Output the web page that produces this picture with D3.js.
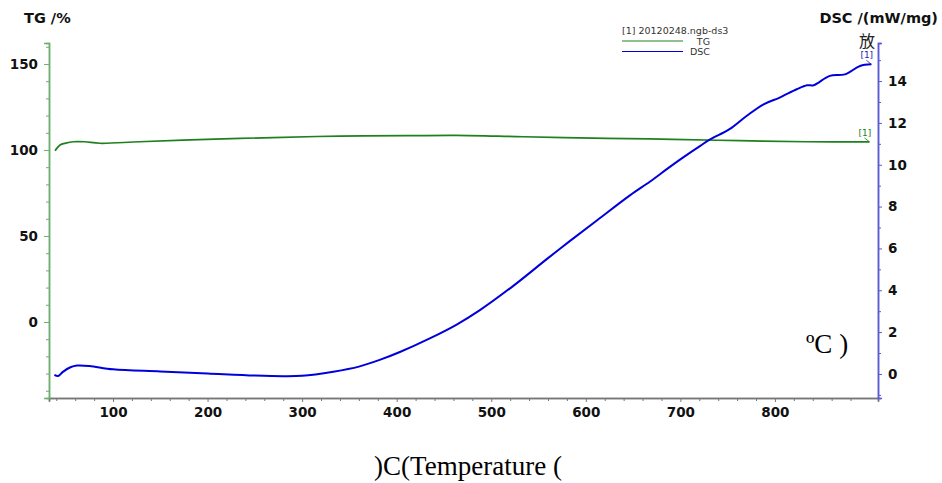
<!DOCTYPE html>
<html>
<head>
<meta charset="utf-8">
<script src="https://cdn.jsdelivr.net/npm/d3@7"></script>
<style>
  body { margin: 0; background: #fff; }
  svg text { font-family: "DejaVu Sans", sans-serif; }
</style>
</head>
<body>
<div id="chart"></div>
<script>
const tgTemp = [38.7, 44, 50, 58, 70, 86, 128, 199, 269, 340, 411, 463, 534, 622, 692, 763, 834, 900];
const tgValue = [99.6, 102.9, 104.0, 104.8, 104.8, 103.9, 104.8, 106.2, 107.2, 108.1, 108.3, 108.5, 107.7, 106.8, 106.2, 105.4, 104.8, 104.7];

const dscTemp = [38, 42, 47, 55, 62, 75, 100, 150, 200, 250, 280, 300, 333, 360, 382, 404, 435, 463, 488, 523, 559, 583, 612, 647, 668, 686, 703, 721, 731, 752, 770, 788, 805, 823, 834, 841, 858, 874, 890, 902];
const dscValue = [-0.05, -0.1, 0.1, 0.32, 0.4, 0.38, 0.22, 0.12, 0.02, -0.08, -0.11, -0.09, 0.11, 0.35, 0.67, 1.06, 1.7, 2.35, 3.05, 4.2, 5.5, 6.35, 7.35, 8.55, 9.2, 9.8, 10.35, 10.9, 11.2, 11.7, 12.33, 12.89, 13.21, 13.61, 13.8, 13.8, 14.25, 14.32, 14.72, 14.8];

const xMajor = [100, 200, 300, 400, 500, 600, 700, 800];
const tgMajor = [0, 50, 100, 150];
const dscMajor = [0, 2, 4, 6, 8, 10, 12, 14];

const W = 942, H = 483;
const plotLeft = 49, plotRight = 878, plotTop = 43, plotBottom = 398;

const svg = d3.select("#chart").append("svg")
    .attr("width", W).attr("height", H);

const x = d3.scaleLinear().domain([32.3, 909]).range([plotLeft, plotRight]);
const yTG = d3.scaleLinear().domain([-44.2, 162.2]).range([plotBottom, plotTop]);
const yDSC = d3.scaleLinear().domain([-1.15, 15.82]).range([plotBottom, plotTop]);

const xMinor = d3.range(40, 901, 20).filter(v => v % 100 !== 0);
const tgMinor = d3.range(-40, 161, 10).filter(v => v % 50 !== 0);
const dscMinor = d3.range(-1, 16, 2);

function drawAxis(axisGen, pos, color, fontSize) {
    let g = svg.append("g").attr("transform", pos).call(axisGen);
    g.select(".domain").attr("stroke", color).attr("stroke-width", 1.5);
    g.selectAll(".tick line").attr("stroke", color);
    g.selectAll(".tick text").attr("fill", "#111")
        .style("font-size", fontSize + "px").style("font-weight", "bold");
    return g;
}

// minor ticks
drawAxis(d3.axisBottom(x).tickValues(xMinor).tickSize(3).tickFormat(""), `translate(0,${plotBottom})`, "#777", 13);
drawAxis(d3.axisLeft(yTG).tickValues(tgMinor).tickSize(3).tickFormat(""), `translate(${plotLeft},0)`, "#6fae6f", 13);
drawAxis(d3.axisRight(yDSC).tickValues(dscMinor).tickSize(3).tickFormat(""), `translate(${plotRight},0)`, "#5a5ad6", 13);

// major ticks with labels
drawAxis(d3.axisBottom(x).tickValues(xMajor).tickSize(4).tickPadding(5), `translate(0,${plotBottom})`, "#777", 13.5);
drawAxis(d3.axisLeft(yTG).tickValues(tgMajor).tickSize(5).tickPadding(6), `translate(${plotLeft},0)`, "#6fae6f", 13.5);
drawAxis(d3.axisRight(yDSC).tickValues(dscMajor).tickSize(4).tickPadding(6), `translate(${plotRight},0)`, "#5a5ad6", 13.5);

// curves
const tgData = tgTemp.map((t, i) => [t, tgValue[i]]);
const dscData = dscTemp.map((t, i) => [t, dscValue[i]]);

svg.append("path")
    .datum(tgData)
    .attr("fill", "none")
    .attr("stroke", "#1e801e")
    .attr("stroke-width", 1.7)
    .attr("d", d3.line().x(d => x(d[0])).y(d => yTG(d[1])).curve(d3.curveCatmullRom.alpha(0.5)));

svg.append("path")
    .datum(dscData)
    .attr("fill", "none")
    .attr("stroke", "#0000dd")
    .attr("stroke-width", 2)
    .attr("d", d3.line().x(d => x(d[0])).y(d => yDSC(d[1])).curve(d3.curveCatmullRom.alpha(0.5)));

// end markers "[1]"
let tgEnd = tgData[tgData.length - 1], dscEnd = dscData[dscData.length - 1];
svg.append("text").attr("x", x(tgEnd[0]) - 11).attr("y", yTG(tgEnd[1]) - 6)
    .attr("fill", "#1e801e").style("font-size", "9px").text("[1]");
svg.append("line").attr("x1", x(tgEnd[0]) - 5).attr("y1", yTG(tgEnd[1]) - 4)
    .attr("x2", x(tgEnd[0])).attr("y2", yTG(tgEnd[1])).attr("stroke", "#1e801e").attr("stroke-width", 0.8);
svg.append("text").attr("x", x(dscEnd[0]) - 11).attr("y", yDSC(dscEnd[1]) - 6)
    .attr("fill", "#2020aa").style("font-size", "9px").text("[1]");
svg.append("line").attr("x1", x(dscEnd[0]) - 5).attr("y1", yDSC(dscEnd[1]) - 4)
    .attr("x2", x(dscEnd[0])).attr("y2", yDSC(dscEnd[1])).attr("stroke", "#2020aa").attr("stroke-width", 0.8);

// axis titles
svg.append("text").attr("x", 24).attr("y", 23)
    .style("font-size", "14.5px").style("font-weight", "bold").attr("fill", "#111").text("TG /%");
svg.append("text").attr("x", 938).attr("y", 23).attr("text-anchor", "end")
    .style("font-size", "14.5px").style("font-weight", "bold").attr("fill", "#111").text("DSC /(mW/mg)");
svg.append("text").attr("x", 859).attr("y", 47)
    .style("font-family", "'Noto Sans CJK SC', sans-serif").style("font-size", "16px")
    .attr("fill", "#222").text("放");

// legend
svg.append("text").attr("x", 622).attr("y", 34)
    .style("font-size", "9.5px").attr("fill", "#333").text("[1] 20120248.ngb-ds3");
svg.append("line").attr("x1", 622).attr("x2", 683).attr("y1", 41).attr("y2", 41)
    .attr("stroke", "#1e801e").attr("stroke-width", 1);
svg.append("text").attr("x", 710).attr("y", 44.5).attr("text-anchor", "end")
    .style("font-size", "9.5px").attr("fill", "#333").text("TG");
svg.append("line").attr("x1", 622).attr("x2", 683).attr("y1", 51.5).attr("y2", 51.5)
    .attr("stroke", "#0000dd").attr("stroke-width", 1);
svg.append("text").attr("x", 710).attr("y", 55).attr("text-anchor", "end")
    .style("font-size", "9.5px").attr("fill", "#333").text("DSC");

// serif annotations
svg.append("text").attr("x", 806).attr("y", 353)
    .style("font-family", "'Liberation Serif', 'Times New Roman', serif").style("font-size", "27px")
    .attr("fill", "#000").text("ºC )");
svg.append("text").attr("x", 468).attr("y", 475).attr("text-anchor", "middle")
    .style("font-family", "'Liberation Serif', 'Times New Roman', serif").style("font-size", "27px")
    .attr("fill", "#000").text(")C(Temperature (");
</script>
</body>
</html>
